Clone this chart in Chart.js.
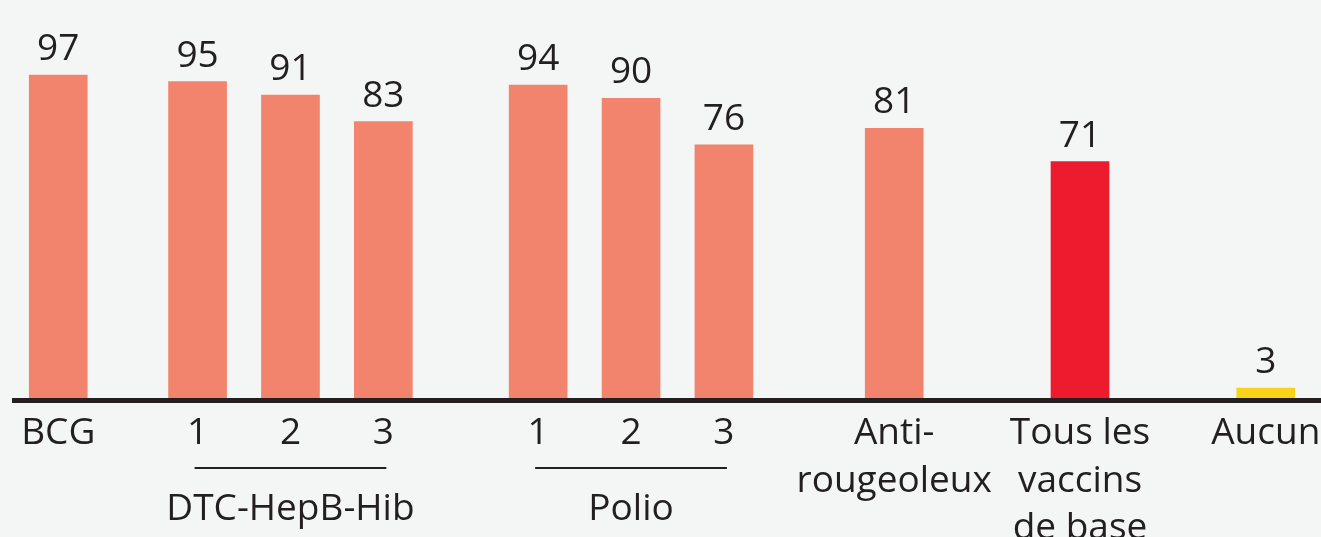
<!DOCTYPE html>
<html>
<head>
<meta charset="utf-8">
<script src="https://cdn.jsdelivr.net/npm/chart.js@4.4.1/dist/chart.umd.min.js"></script>
<style>
  html, body { margin: 0; padding: 0; background: #f3f6f5; }
  canvas { display: block; }
</style>
</head>
<body>
<canvas id="vaccins" width="1321" height="537"></canvas>
<script>
// data
const categories = ['BCG', '1', '2', '3', '1', '2', '3', ['Anti-', 'rougeoleux'], ['Tous les', 'vaccins', 'de base'], 'Aucun'];
const values = [97, 95, 91, 83, 94, 90, 76, 81, 71, 3];
const groupNames = ['DTC-HepB-Hib', 'Polio'];
const groupFirst = [1, 4];
const groupLast = [3, 6];

// layout: where each bar sits on a grid of 1/6 bar spacing
const slotIndex = [0, 9, 15, 21, 31, 37, 43, 54, 66, 78];
const nSlots = 79;

const salmon = '#f2836c';
const textColor = '#231f20';
const font = '37px "Open Sans"';

const labels = [];
const data = [];
const colors = [];
for (let i = 0; i < nSlots; i++) {
    labels.push('');
    data.push(null);
    colors.push(salmon);
}
slotIndex.forEach((s, i) => {
    labels[s] = categories[i];
    data[s] = values[i];
});
colors[slotIndex[8]] = '#ec1c2e';
colors[slotIndex[9]] = '#f9d21a';

const decor = {
    id: 'decor',
    afterDatasetsDraw(chart) {
        const ctx = chart.ctx;
        const x = chart.scales.x;
        const area = chart.chartArea;
        const meta = chart.getDatasetMeta(0);
        ctx.save();

        // baseline
        ctx.fillStyle = textColor;
        ctx.fillRect(12, area.bottom, chart.width - 12, 5);

        ctx.font = font;
        ctx.textAlign = 'center';
        ctx.textBaseline = 'alphabetic';

        // values above the bars
        slotIndex.forEach((s, i) => {
            const bar = meta.data[s];
            ctx.fillText(String(values[i]), bar.x, bar.y - 15);
        });

        // category labels
        slotIndex.forEach((s, i) => {
            const px = x.getPixelForValue(s);
            const lines = Array.isArray(categories[i]) ? categories[i] : [categories[i]];
            lines.forEach((t, k) => ctx.fillText(t, px, 444 + k * 47.5));
        });

        // group lines and names
        groupNames.forEach((g, i) => {
            const x0 = x.getPixelForValue(slotIndex[groupFirst[i]]) - 3;
            const x1 = x.getPixelForValue(slotIndex[groupLast[i]]) + 3;
            ctx.fillRect(x0, 467, x1 - x0, 2);
            ctx.fillText(g, (x0 + x1) / 2, 520);
        });
        ctx.restore();
    }
};

new Chart(document.getElementById('vaccins').getContext('2d'), {
    type: 'bar',
    data: {
        labels,
        datasets: [{
            data,
            backgroundColor: colors,
            borderWidth: 0,
            barThickness: 58,
            clip: false
        }]
    },
    options: {
        responsive: false,
        animation: false,
        devicePixelRatio: 1,
        layout: { padding: { left: 50.5, right: 47.5, top: 65, bottom: 139 } },
        plugins: { legend: { display: false }, tooltip: { enabled: false } },
        scales: {
            x: { display: false },
            y: { display: false, min: 0, max: 100 }
        }
    },
    plugins: [decor]
});
</script>
</body>
</html>
